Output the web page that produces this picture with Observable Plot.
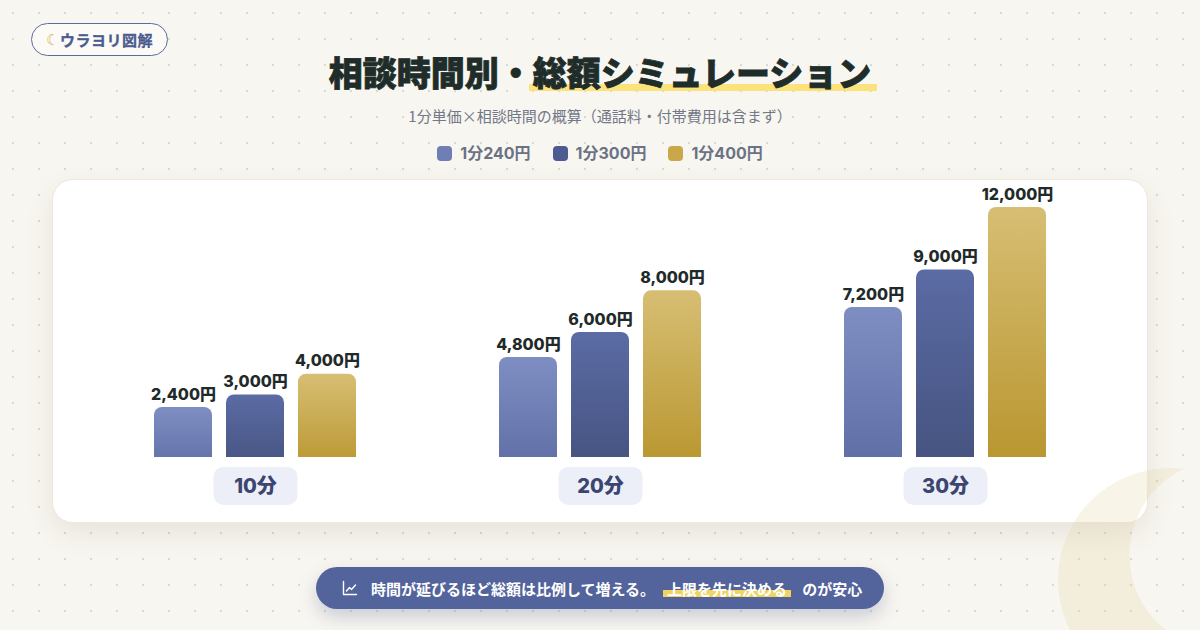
<!DOCTYPE html>
<html lang="ja">
<head>
<meta charset="utf-8">
<script src="https://cdn.jsdelivr.net/npm/d3@7"></script>
<script src="https://cdn.jsdelivr.net/npm/@observablehq/plot@0.6"></script>
<style>
  html, body { margin: 0; padding: 0; }
  body {
    width: 1200px; height: 630px; overflow: hidden; position: relative;
    background-color: #f8f6f0;
    background-image: radial-gradient(circle, #dcd8cc 1px, transparent 1.6px);
    background-size: 26px 26px;
    font-family: "Noto Sans CJK JP", "Noto Sans", sans-serif;
  }
  .badge {
    position: absolute; left: 31px; top: 23px; width: 137px; height: 33px;
    box-sizing: border-box; border: 1.5px solid #5d6ca0; border-radius: 17px;
    background: #fbfaf6; color: #4b5a8f; font-weight: 700; font-size: 15px;
    display: flex; align-items: center; justify-content: center; letter-spacing: 0.5px;
    -webkit-text-stroke: 0.3px #4b5a8f;
  }
  .badge .moon { color: #d6b450; font-family: "DejaVu Sans"; font-size: 15px; margin-right: 0px; -webkit-text-stroke: 0; }
  .title {
    position: absolute; left: 0; top: 47px; width: 1200px; text-align: center;
    font-size: 34px; line-height: 50px; font-weight: 900; color: #1f2d2a;
    -webkit-text-stroke: 0.8px #1f2d2a;
  }
  .title .hl { position: relative; z-index: 0; }
  .title .hl::after {
    content: ""; position: absolute; left: -4px; right: -6px; bottom: 5px; height: 7px;
    background: #fbe27a; z-index: -1;
  }
  .subtitle {
    position: absolute; left: 0; top: 106px; width: 1200px; text-align: center;
    font-size: 15px; line-height: 20px; color: #737888;
  }
  .legend {
    position: absolute; left: 0; top: 143px; width: 1200px; display: flex; justify-content: center;
    font-family: Inter, "Noto Sans CJK JP", sans-serif;
    font-size: 16px; line-height: 20px; font-weight: 700; color: #6b7285; gap: 22px;
  }
  .legend .item { display: flex; align-items: center; gap: 8px; }
  .legend .sw { width: 15px; height: 15px; border-radius: 4px; }
  .card {
    position: absolute; left: 53px; top: 180px; width: 1094px; height: 342px;
    background: #fff; border-radius: 20px;
    box-shadow: 0 0 0 1px #ece9e1, 0 10px 28px rgba(70, 60, 30, 0.10);
  }
  .card svg { position: absolute; left: 0; top: 0; }
  .moonbg {
    position: absolute; left: 1058px; top: 468px; width: 224px; height: 224px; border-radius: 50%;
    background: radial-gradient(circle 95px at 167px 87px, transparent 95px, rgba(225, 205, 150, 0.22) 96px);
    pointer-events: none;
  }
  .note {
    position: absolute; left: 316px; top: 567px; width: 568px; height: 42px; border-radius: 21px;
    background: #53639b; color: #fff; font-weight: 700; font-size: 15px;
    display: flex; align-items: center; box-sizing: border-box; padding-left: 26px;
    box-shadow: 0 8px 18px rgba(83, 99, 155, 0.28);
  }
  .note svg { margin-right: 13px; }
  .note .hl { position: relative; z-index: 0; margin: 0 11px 0 8px; padding: 0 4px; }
  .note .hl::after {
    content: ""; position: absolute; left: 0; right: 0; bottom: 2px; height: 7px;
    background: #f0d360; z-index: -1;
  }
</style>
</head>
<body>
<svg width="0" height="0" style="position:absolute">
  <defs>
    <linearGradient id="grad0" x1="0" y1="0" x2="0" y2="1">
      <stop offset="0" stop-color="#7f8ec2"/><stop offset="1" stop-color="#5d6ca4"/>
    </linearGradient>
    <linearGradient id="grad1" x1="0" y1="0" x2="0" y2="1">
      <stop offset="0" stop-color="#5b6ba4"/><stop offset="1" stop-color="#45527e"/>
    </linearGradient>
    <linearGradient id="grad2" x1="0" y1="0" x2="0" y2="1">
      <stop offset="0" stop-color="#d7be73"/><stop offset="1" stop-color="#b7942c"/>
    </linearGradient>
  </defs>
</svg>

<div class="badge"><span class="moon">☾</span>ウラヨリ図解</div>
<div class="title">相談時間別・<span class="hl">総額シミュレーション</span></div>
<div class="subtitle">1分単価×相談時間の概算（通話料・付帯費用は含まず）</div>
<div class="legend" id="legend"></div>
<div class="card" id="card"></div>
<div class="moonbg"></div>
<div class="note">
  <svg width="16" height="16" viewBox="0 0 16 16" fill="none" stroke="#fff" stroke-width="1.4" stroke-linecap="round" stroke-linejoin="round">
    <path d="M1.5 1.5 V14.5 H14.5"/><path d="M4.5 11 L7.5 7.5 L9.5 9.5 L13.5 5"/>
  </svg>
  <span>時間が延びるほど総額は比例して増える。</span><span class="hl">上限を先に決める</span><span>のが安心</span>
</div>

<script>
// ---- data ----
const categories = ["10分", "20分", "30分"];
const rates = ["1分240円", "1分300円", "1分400円"];
const totals240 = [2400, 4800, 7200];
const totals300 = [3000, 6000, 9000];
const totals400 = [4000, 8000, 12000];
const swatches = ["#6f7fb6", "#4d5b90", "#c9a849"];
const fills = ["url(#grad0)", "url(#grad1)", "url(#grad2)"];

const seriesValues = [totals240, totals300, totals400];
const data = categories.flatMap((c, i) =>
  rates.map((r, j) => ({ time: c, rate: r, value: seriesValues[j][i] }))
);

// legend
const legend = document.getElementById("legend");
rates.forEach((r, j) => {
  const it = document.createElement("div");
  it.className = "item";
  it.innerHTML = `<span class="sw" style="background:${swatches[j]}"></span><span>${r}</span>`;
  legend.append(it);
});

const numFont = "Inter, 'Noto Sans CJK JP', sans-serif";
const fmt = d3.format(",");
const svg = Plot.plot({
  width: 1094,
  height: 342,
  marginTop: 27,
  marginBottom: 65,
  marginLeft: 77,
  marginRight: 77,
  style: { fontFamily: "'Noto Sans CJK JP', sans-serif", background: "transparent", overflow: "visible" },
  fx: { domain: categories, paddingInner: 95 / 345, paddingOuter: 0, round: false, axis: null, label: null },
  x: { domain: rates, paddingInner: 14 / 72, paddingOuter: 1 / 3, round: false, axis: null },
  y: { domain: [0, 12000], axis: null },
  marks: [
    ...rates.map((r, j) =>
      Plot.barY(data.filter(d => d.rate === r), {
        fx: "time", x: "rate", y1: -800, y2: "value",
        fill: fills[j], rx: 8, clip: true
      })
    ),
    Plot.text(data, {
      fx: "time", x: "rate", y: "value",
      text: d => fmt(d.value) + "円",
      lineAnchor: "bottom", dy: -8,
      fontFamily: numFont, fontSize: 16, fontWeight: 800, fill: "#1f2a2a"
    }),
    Plot.text(categories, {
      fx: d => d, text: d => d, frameAnchor: "bottom", dy: 29,
      lineAnchor: "middle", fontFamily: numFont, fontSize: 20, fontWeight: 800, fill: "#3b4570",
      className: "catlabel"
    })
  ]
});
document.getElementById("card").append(svg);

// pill backgrounds behind the category labels
svg.querySelectorAll('.catlabel text, text.catlabel').forEach(t => {
  const b = t.getBBox();
  const r = document.createElementNS("http://www.w3.org/2000/svg", "rect");
  const w = 84, h = 38;
  r.setAttribute("x", b.x + b.width / 2 - w / 2);
  r.setAttribute("y", b.y + b.height / 2 - h / 2);
  r.setAttribute("width", w);
  r.setAttribute("height", h);
  r.setAttribute("rx", 10);
  r.setAttribute("fill", "#eceff8");
  const tr = t.getAttribute("transform");
  if (tr) r.setAttribute("transform", tr);
  t.parentNode.insertBefore(r, t);
});
</script>
</body>
</html>
